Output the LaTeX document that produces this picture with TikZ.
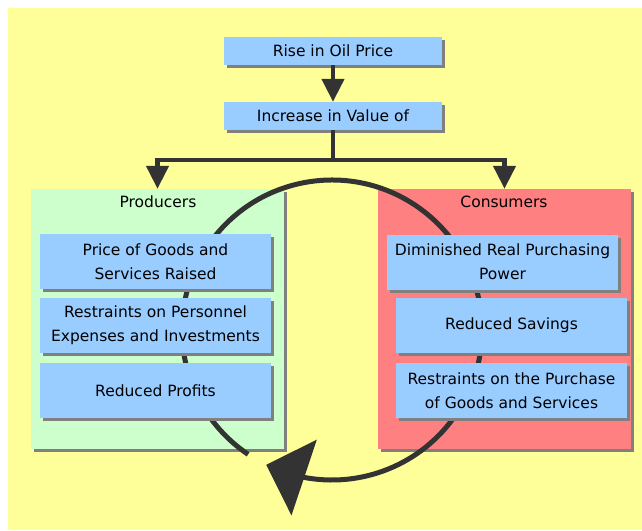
\documentclass[tikz,border=0pt]{standalone}
\usepackage{fontspec}
\setmainfont{DejaVu Sans}
\usetikzlibrary{arrows.meta,bending,shadows}
\definecolor{bgyellow}{HTML}{FFFF99}
\definecolor{boxblue}{HTML}{99CCFF}
\definecolor{prodgreen}{HTML}{CCFFCC}
\definecolor{consred}{HTML}{FF8080}
\definecolor{darkline}{HTML}{333333}

\begin{document}
\begin{tikzpicture}[x=1pt, y=-1pt,
    shadowed/.style={drop shadow={shadow xshift=3pt, shadow yshift=-3pt, fill=black!50, opacity=1}},
    effect box/.style={shadowed, fill=boxblue, align=center, inner sep=0pt,
      minimum width=231pt, minimum height=55pt, font=\fontsize{15.5}{24}\selectfont},
    group box/.style={shadowed, inner sep=0pt, minimum width=253pt, minimum height=260pt},
    flow/.style={line width=4.5pt, darkline, -{Triangle[length=23pt, width=22pt]}}]
        % Background
        \useasboundingbox (0,0) rectangle (642,530);
        \fill[bgyellow] (8,8) rectangle (642,530);
        % Groups
        \node[group box, fill=prodgreen] (prod) at (157.5,319) {};
        \node[group box, fill=consred] (cons) at (504.5,319) {};
        \node[font=\fontsize{15.5}{24}\selectfont] (prodlbl) at (158,202) {Producers};
        \node[font=\fontsize{15.5}{24}\selectfont] (conslbl) at (504,202) {Consumers};
        % Cycle
        \draw[line width=5pt, darkline, -{Triangle[length=40pt, width=79pt, flex]}]
          (332,330) ++(124:150) arc[start angle=124, end angle=476, radius=150];
        % Top chain
        \node[effect box, minimum width=218pt, minimum height=28pt] (oil) at (333,51) {Rise in Oil Price};
        \node[effect box, minimum width=218pt, minimum height=28pt] (incr) at (333,116) {Increase in Value of};
        \draw[flow] (oil) -- (incr);
        \draw[flow] (incr.south) -- ++(0,30) -| (prod.north);
        \draw[flow] (incr.south) -- ++(0,30) -| (cons.north);
        % Producer effects
        \node[effect box] (price) at (155.5,261.5) {Price of Goods and\\Services Raised};
        \node[effect box] (staff) at (155.5,325.5) {Restraints on Personnel\\Expenses and Investments};
        \node[effect box] (profit) at (155.5,390.5) {Reduced Profits};
        % Consumer effects
        \node[effect box] (power) at (502.5,262) {Diminished Real Purchasing\\Power};
        \node[effect box] (savings) at (511.5,325.5) {Reduced Savings};
        \node[effect box] (purchase) at (511.5,390.5) {Restraints on the Purchase\\of Goods and Services};
      \end{tikzpicture}
\end{document}
